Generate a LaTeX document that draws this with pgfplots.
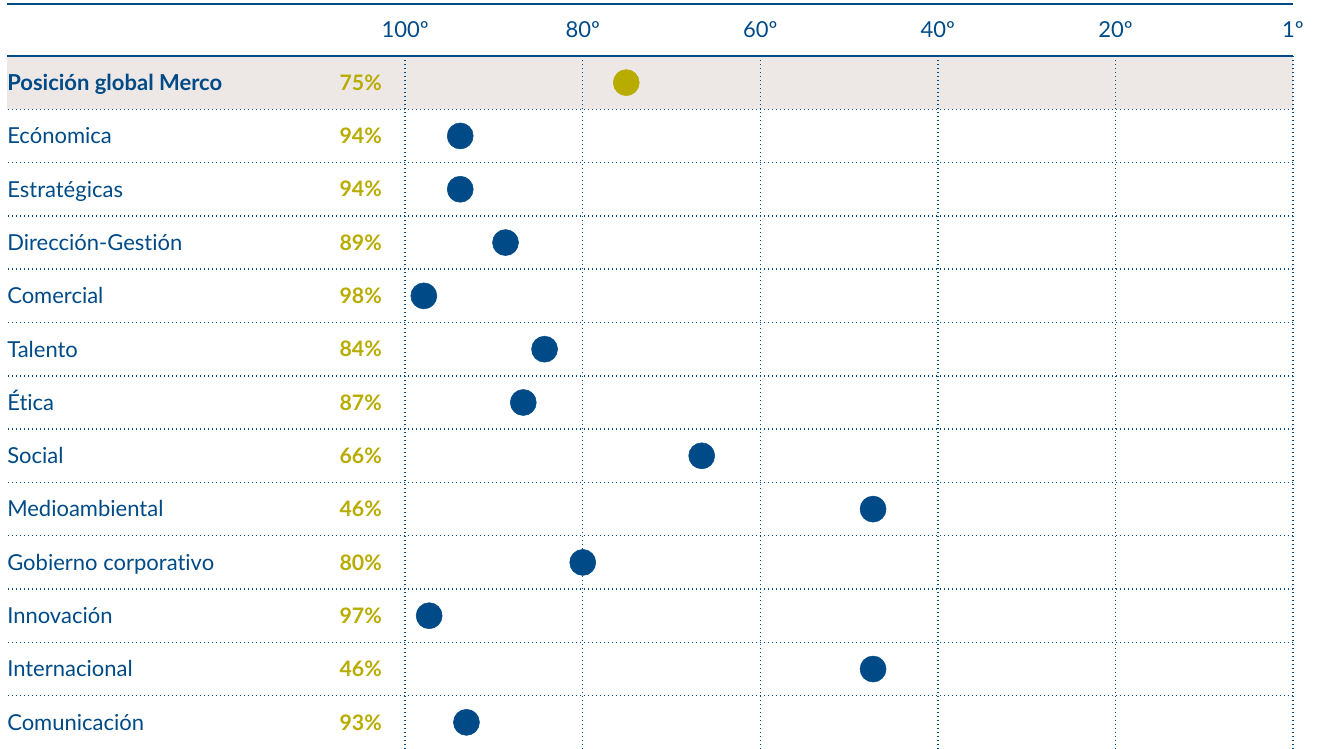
\documentclass[border=0pt]{standalone}
\usepackage{pgfplots}
\pgfplotsset{compat=1.18}
\usepackage{pgfplotstable}
\usepackage{fontspec}
\setmainfont{Lato}[Ligatures={NoCommon,NoRare}]
\definecolor{navy}{RGB}{0,75,135}
\definecolor{olive}{RGB}{184,172,0}
\definecolor{band}{RGB}{237,232,230}

\pgfplotstableread{
y val
12.5 75.1
}\globaltbl
\pgfplotstableread{
y val
11.5 93.8
10.5 93.8
9.5 88.7
8.5 97.9
7.5 84.3
6.5 86.7
5.5 66.6
4.5 47.3
3.5 80.0
2.5 97.3
1.5 47.3
0.5 93.1
}\dimtbl

\begin{document}
\begin{tikzpicture}
\begin{axis}[
  name=ax, set layers, clip=false,
  scale only axis, width=964.5pt, height=519.75pt,
  x dir=reverse, xmin=0, xmax=144.85, ymin=0, ymax=13,
  xtick={0,20,40,60,80,100},
  xticklabels={1º,20º,40º,60º,80º,100º},
  xticklabel pos=upper,
  ytick={1,2,...,12}, yticklabels={},
  xmajorgrids, ymajorgrids,
  grid style={navy, line width=1.1pt, dash pattern=on 1.1pt off 1.9pt},
  axis line style={draw=none},
  major tick style={draw=none},
  xticklabel shift=14pt,
  xticklabel style={font=\fontsize{16.5}{19}\selectfont, text=navy, anchor=base},
]
\begin{pgfonlayer}{axis background}
\fill[band] (axis cs:144.85,12) rectangle (axis cs:0,13);
\end{pgfonlayer}
\draw[navy, line width=1.5pt] (axis cs:144.85,13) -- (axis cs:0,13);
\draw[navy, line width=1.5pt] (axis cs:144.85,13.975) -- (axis cs:0,13.975);

\addplot[only marks, mark=*, mark size=9.75pt, color=olive, mark options={draw=none, fill=olive}] table[x=val, y=y]{\globaltbl};
\addplot[only marks, mark=*, mark size=9.75pt, color=navy, mark options={draw=none, fill=navy}] table[x=val, y=y]{\dimtbl};

\begin{scope}[every node/.style={anchor=base west, text=navy, font=\fontsize{16.5}{19}\selectfont, inner sep=0pt, yshift=-5.9pt}]
\node[font=\fontsize{16.5}{19}\selectfont\bfseries] at (axis cs:144.85,12.5) {Posición global Merco};
\node at (axis cs:144.85,11.5) {Ecónomica};
\node at (axis cs:144.85,10.5) {Estratégicas};
\node at (axis cs:144.85,9.5) {Dirección-Gestión};
\node at (axis cs:144.85,8.5) {Comercial};
\node at (axis cs:144.85,7.5) {Talento};
\node at (axis cs:144.85,6.5) {Ética};
\node at (axis cs:144.85,5.5) {Social};
\node at (axis cs:144.85,4.5) {Medioambiental};
\node at (axis cs:144.85,3.5) {Gobierno corporativo};
\node at (axis cs:144.85,2.5) {Innovación};
\node at (axis cs:144.85,1.5) {Internacional};
\node at (axis cs:144.85,0.5) {Comunicación};
\end{scope}
\begin{scope}[every node/.style={anchor=base east, text=olive, font=\fontsize{16}{19}\selectfont\bfseries, inner sep=0pt, yshift=-5.8pt}]
\node at (axis cs:102.6,12.5) {75\%};
\node at (axis cs:102.6,11.5) {94\%};
\node at (axis cs:102.6,10.5) {94\%};
\node at (axis cs:102.6,9.5) {89\%};
\node at (axis cs:102.6,8.5) {98\%};
\node at (axis cs:102.6,7.5) {84\%};
\node at (axis cs:102.6,6.5) {87\%};
\node at (axis cs:102.6,5.5) {66\%};
\node at (axis cs:102.6,4.5) {46\%};
\node at (axis cs:102.6,3.5) {80\%};
\node at (axis cs:102.6,2.5) {97\%};
\node at (axis cs:102.6,1.5) {46\%};
\node at (axis cs:102.6,0.5) {93\%};
\end{scope}
\end{axis}
\pgfresetboundingbox
\path (ax.south west) ++(-5.25pt,0pt) rectangle ++(987.75pt,561.75pt);
\end{tikzpicture}
\end{document}
